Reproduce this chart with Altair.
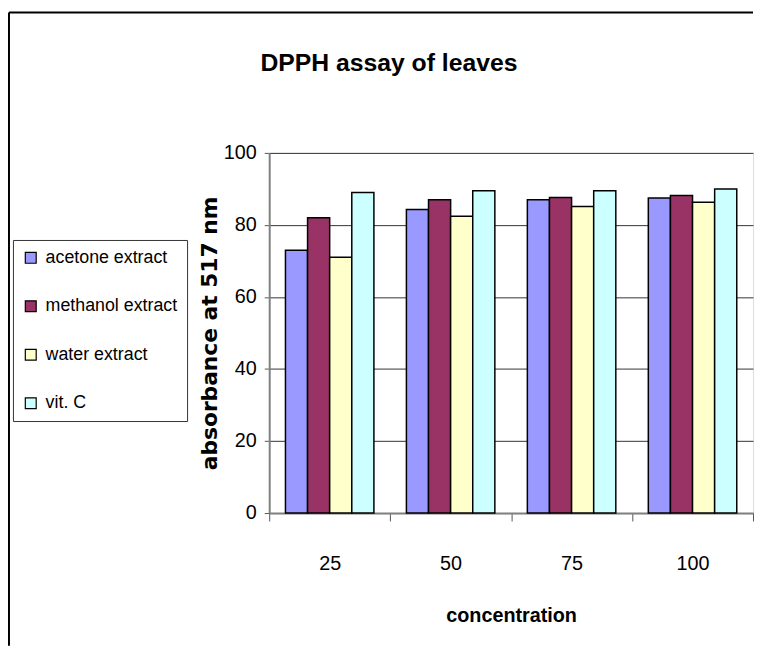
import altair as alt
import pandas as pd

concentrations = ["25", "50", "75", "100"]
series = ["acetone extract", "methanol extract", "water extract", "vit. C"]
acetone = [73.0, 84.3, 87.0, 87.5]
methanol = [82.0, 87.0, 87.6, 88.2]
water = [71.0, 82.4, 85.1, 86.3]
vitc = [89.0, 89.5, 89.5, 90.0]
colors = ["#9999FF", "#993366", "#FFFFCC", "#CCFFFF"]
chart_title = "DPPH assay of leaves"

rows = []
for name, vals in zip(series, [acetone, methanol, water, vitc]):
    for c, v in zip(concentrations, vals):
        rows.append({"concentration": c, "series": name, "value": v})
df = pd.DataFrame(rows)

FONT = "Liberation Sans Narrow, Arial Narrow, Liberation Sans, Arial"

bars = alt.Chart(df).mark_bar(stroke="black", strokeWidth=1.5).encode(
    x=alt.X("concentration:N", sort=concentrations,
            scale=alt.Scale(paddingInner=0, paddingOuter=0),
            axis=alt.Axis(title="concentration", labelAngle=0, tickBand="extent",
                          labelFont=FONT, labelFontSize=20, labelColor="black",
                          labelBaseline="alphabetic", labelPadding=49, tickSize=8,
                          tickColor="#555", domainColor="#808080", domainWidth=2,
                          titleFont=FONT, titleFontSize=20, titleFontWeight="bold",
                          titleColor="black", titleBaseline="alphabetic", titleY=110,
                          grid=False)),
    xOffset=alt.XOffset("series:N", sort=series,
                        scale=alt.Scale(paddingInner=0, paddingOuter=0.735)),
    y=alt.Y("value:Q", scale=alt.Scale(domain=[0, 100]),
            axis=alt.Axis(title="absorbance at 517 nm", values=[0, 20, 40, 60, 80, 100],
                          labelFont=FONT, labelFontSize=20, labelColor="black",
                          labelPadding=8, tickSize=5, tickColor="#555",
                          domainColor="#808080", domainWidth=2,
                          gridColor="#333", gridWidth=1,
                          titleFont="DejaVu Sans", titleFontSize=22, titleFontWeight="bold",
                          titleColor="black", titleAngle=-90, titleX=-53, titleY=182,
                          titleAlign="center", titleBaseline="alphabetic")),
    color=alt.Color("series:N", sort=series,
                    scale=alt.Scale(domain=series, range=colors),
                    legend=alt.Legend(title=None, orient="none", legendX=-259, legendY=88,
                                      labelFont=FONT, labelFontSize=18, labelColor="black",
                                      symbolType="square", symbolSize=121,
                                      symbolStrokeColor="black", symbolStrokeWidth=1.2,
                                      symbolOpacity=1, rowPadding=31, padding=9,
                                      strokeColor="#333", fillColor="white", labelOffset=6)),
)

title_text = alt.Chart(pd.DataFrame({"t": [chart_title]})).mark_text(
    font=FONT, fontSize=25, fontWeight="bold", color="black",
    align="center", baseline="alphabetic").encode(
    text="t:N", x=alt.value(121), y=alt.value(-83))

frame_top = alt.Chart(pd.DataFrame({"k": [0]})).mark_rule(color="black", strokeWidth=2).encode(
    x=alt.value(-263), x2=alt.value(489), y=alt.value(-142))
frame_left = alt.Chart(pd.DataFrame({"k": [0]})).mark_rule(color="black", strokeWidth=2).encode(
    x=alt.value(-263), y=alt.value(-142), y2=alt.value(498))

chart = alt.layer(bars, title_text, frame_top, frame_left).properties(
    width=489, height=364,
    padding={"left": 0, "top": 0, "right": 0, "bottom": 4},
).configure_view(fill="#C0C0C0", stroke="#808080", strokeWidth=2
).configure(background="white")

chart.save("out.html", embed_options={"renderer": "svg", "actions": False})
